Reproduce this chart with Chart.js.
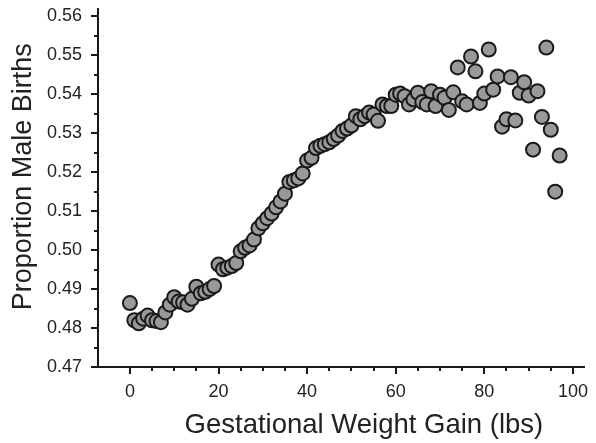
<!DOCTYPE html>
<html>
<head>
<meta charset="utf-8">
<script src="https://cdn.jsdelivr.net/npm/chart.js@4/dist/chart.umd.min.js"></script>
<style>
  html, body { margin: 0; padding: 0; background: #fff; }
  #wrap { width: 596px; height: 443px; }
</style>
</head>
<body>
<div id="wrap"><canvas id="chart" width="596" height="443"></canvas></div>
<script>
// gestational weight gain (lbs), one bin per pound
const gain = [
  0, 1, 2, 3, 4, 5, 6, 7, 8, 9,
  10, 11, 12, 13, 14, 15, 16, 17, 18, 19,
  20, 21, 22, 23, 24, 25, 26, 27, 28, 29,
  30, 31, 32, 33, 34, 35, 36, 37, 38, 39,
  40, 41, 42, 43, 44, 45, 46, 47, 48, 49,
  50, 51, 52, 53, 54, 55, 56, 57, 58, 59,
  60, 61, 62, 63, 64, 65, 66, 67, 68, 69,
  70, 71, 72, 73, 74, 75, 76, 77, 78, 79,
  80, 81, 82, 83, 84, 85, 86, 87, 88, 89,
  90, 91, 92, 93, 94, 95, 96, 97
];
// proportion of male births
const maleProp = [
  0.4864, 0.4820, 0.4812, 0.4824, 0.4832, 0.4820, 0.4818, 0.4815, 0.4840, 0.4860,
  0.4879, 0.4868, 0.4866, 0.4860, 0.4875, 0.4906, 0.4889, 0.4893, 0.4900, 0.4908,
  0.4963, 0.4951, 0.4955, 0.4959, 0.4967, 0.4997, 0.5006, 0.5012, 0.5027, 0.5056,
  0.5069, 0.5082, 0.5094, 0.5110, 0.5125, 0.5145, 0.5175, 0.5179, 0.5184, 0.5197,
  0.5230, 0.5237, 0.5262, 0.5268, 0.5272, 0.5277, 0.5285, 0.5294, 0.5306, 0.5312,
  0.5320, 0.5344, 0.5336, 0.5344, 0.5353, 0.5348, 0.5332, 0.5374, 0.5370, 0.5370,
  0.5399, 0.5402, 0.5395, 0.5374, 0.5387, 0.5404, 0.5380, 0.5374, 0.5408, 0.5370,
  0.5399, 0.5391, 0.5360, 0.5405, 0.5469, 0.5382, 0.5374, 0.5497, 0.5459, 0.5378,
  0.5402, 0.5515, 0.5412, 0.5446, 0.5317, 0.5336, 0.5444, 0.5333, 0.5404, 0.5431,
  0.5397, 0.5258, 0.5408, 0.5342, 0.5520, 0.5309, 0.5150, 0.5243
];

const xTickLabels = [0, 20, 40, 60, 80, 100];
const yTickLabels = [0.47, 0.48, 0.49, 0.50, 0.51, 0.52, 0.53, 0.54, 0.55, 0.56];
const xMinorStep = 5;
const yMinorStep = 0.005;

const FONT = "'Liberation Sans', Arial, Helvetica, sans-serif";
const INK = '#1a1a1a';

// all tick positions (labelled + minor)
const xTickVals = [];
for (let v = xTickLabels[0]; v <= xTickLabels[xTickLabels.length - 1]; v += xMinorStep) xTickVals.push(v);
const yTickVals = [];
for (let i = 0; i <= (yTickLabels.length - 1) * 2; i++) yTickVals.push(+(yTickLabels[0] + i * yMinorStep).toFixed(3));

const isMajorY = v => yTickLabels.some(t => Math.abs(t - v) < 1e-6);
const isMajorX = v => xTickLabels.includes(v);

// outward tick marks, long for labelled, short for minor
const tickMarks = {
  id: 'tickMarks',
  afterDraw(chart) {
    const { ctx, chartArea, scales } = chart;
    ctx.save();
    ctx.strokeStyle = INK;
    ctx.lineWidth = 2;
    ctx.beginPath();
    scales.x.ticks.forEach(t => {
      const px = Math.round(scales.x.getPixelForValue(t.value));
      const len = isMajorX(t.value) ? 7 : 4;
      ctx.moveTo(px, chartArea.bottom);
      ctx.lineTo(px, chartArea.bottom + len);
    });
    scales.y.ticks.forEach(t => {
      const py = Math.round(scales.y.getPixelForValue(t.value));
      const len = isMajorY(t.value) ? 7 : 4;
      ctx.moveTo(chartArea.left, py);
      ctx.lineTo(chartArea.left - len, py);
    });
    ctx.stroke();
    ctx.restore();
  }
};

const points = gain.map((g, i) => ({ x: g, y: maleProp[i] }));

new Chart(document.getElementById('chart'), {
  type: 'scatter',
  data: {
    datasets: [{
      data: points,
      pointRadius: 7,
      pointHoverRadius: 7,
      borderWidth: 2,
      backgroundColor: '#999999',
      borderColor: INK
    }]
  },
  options: {
    responsive: false,
    animation: false,
    events: [],
    layout: { padding: { left: 0, top: 5, right: 12, bottom: 0 } },
    plugins: { legend: { display: false }, tooltip: { enabled: false } },
    scales: {
      x: {
        type: 'linear',
        min: -7.2,
        max: 102.5,
        afterBuildTicks: s => { s.ticks = xTickVals.map(v => ({ value: v })); },
        afterFit: s => { s.height = 76; s.paddingLeft = 0; s.paddingRight = 0; },
        grid: { display: false, drawTicks: false },
        border: { display: true, color: INK, width: 2 },
        ticks: {
          autoSkip: false,
          maxRotation: 0,
          padding: 14,
          color: '#222',
          font: { family: FONT, size: 18 },
          callback: v => isMajorX(v) ? String(v) : ''
        },
        title: {
          display: true,
          text: '      Gestational Weight Gain (lbs)',
          color: '#222',
          font: { family: FONT, size: 27.5 },
          padding: { top: 0, bottom: 1 }
        }
      },
      y: {
        type: 'linear',
        min: 0.47,
        max: 0.5619,
        afterBuildTicks: s => { s.ticks = yTickVals.map(v => ({ value: v })); },
        afterFit: s => { s.width = 98; s.paddingTop = 0; s.paddingBottom = 0; },
        grid: { display: false, drawTicks: false },
        border: { display: true, color: INK, width: 2 },
        ticks: {
          autoSkip: false,
          padding: 16,
          color: '#222',
          font: { family: FONT, size: 18 },
          callback: v => isMajorY(v) ? v.toFixed(2) : ''
        },
        title: {
          display: true,
          text: '   Proportion Male Births',
          color: '#222',
          font: { family: FONT, size: 27 },
          padding: { top: 7, bottom: 0 }
        }
      }
    }
  },
  plugins: [tickMarks]
});
</script>
</body>
</html>
